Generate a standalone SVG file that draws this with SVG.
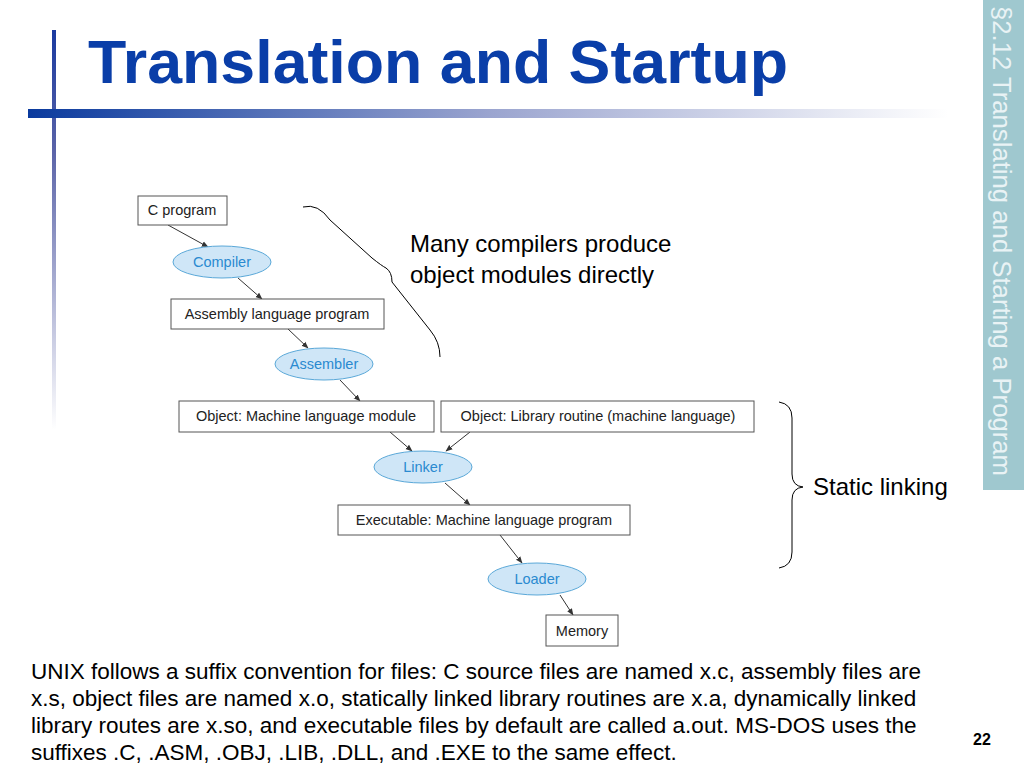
<svg xmlns="http://www.w3.org/2000/svg" width="1024" height="768" viewBox="0 0 1024 768">
<defs>
<linearGradient id="bar" x1="0" x2="1"><stop offset="0" stop-color="#0a3a9e"/><stop offset="0.5" stop-color="#9aa4cf"/><stop offset="1" stop-color="#ffffff"/></linearGradient>
<linearGradient id="vbar" x1="0" y1="0" x2="0" y2="1"><stop offset="0" stop-color="#1a3aa0"/><stop offset="0.3" stop-color="#5a63a8"/><stop offset="1" stop-color="#ffffff"/></linearGradient>
<marker id="ar" viewBox="0 0 10 10" refX="9" refY="5" markerWidth="7" markerHeight="7" orient="auto"><path d="M0,1 L10,5 L0,9 z" fill="#333"/></marker>
</defs>
<style>
.box{fill:#fff;stroke:#555;stroke-width:1}
.ell{fill:#cfe6f7;stroke:#5aa8d8;stroke-width:1}
.t{font-family:"Liberation Sans",Arial,sans-serif;font-size:14.5px;fill:#222;text-anchor:middle}
.te{font-family:"Liberation Sans",Arial,sans-serif;font-size:14.5px;fill:#2a8ad0;text-anchor:middle}
.c line{stroke:#333;stroke-width:1;marker-end:url(#ar)}
.big{font-family:"Liberation Sans",Arial,sans-serif;font-size:24px;fill:#000}
.body{font-family:"Liberation Sans",Arial,sans-serif;font-size:22.5px;fill:#000}
</style>
<rect width="1024" height="768" fill="#fff"/>
<rect x="983" y="0" width="41" height="490" fill="#9fc8cf"/>
<text transform="translate(993,6) rotate(90)" font-family="Liberation Sans,Arial,sans-serif" font-size="25.5" fill="#e9f3f5" textLength="470" lengthAdjust="spacingAndGlyphs">§2.12 Translating and Starting a Program</text>
<rect x="52" y="30" width="4" height="400" fill="url(#vbar)"/>
<rect x="28" y="109" width="920" height="9" fill="url(#bar)"/>
<text x="88" y="83" font-family="Liberation Sans,Arial,sans-serif" font-weight="bold" font-size="62" fill="#0a3ea8" textLength="700" lengthAdjust="spacingAndGlyphs">Translation and Startup</text>
<g class="c">
<line x1="168" y1="225" x2="208" y2="247"/>
<line x1="238" y1="278" x2="262" y2="299"/>
<line x1="288" y1="329" x2="308" y2="348"/>
<line x1="340" y1="380" x2="360" y2="401"/>
<line x1="390" y1="432" x2="412" y2="451"/>
<line x1="470" y1="432" x2="446" y2="451"/>
<line x1="445" y1="483" x2="470" y2="505"/>
<line x1="500" y1="535" x2="522" y2="563"/>
<line x1="560" y1="595" x2="573" y2="615"/>
</g>
<g id="cprog"><rect class="box" x="138" y="196" width="89" height="29"/><text class="t" x="182" y="215">C program</text></g>
<g id="compiler"><ellipse class="ell" cx="222" cy="262" rx="49" ry="16"/><text class="te" x="222" y="267">Compiler</text></g>
<g id="asmprog"><rect class="box" x="171" y="299" width="213" height="30"/><text class="t" x="277" y="319">Assembly language program</text></g>
<g id="assembler"><ellipse class="ell" cx="324" cy="364" rx="49" ry="16"/><text class="te" x="324" y="369">Assembler</text></g>
<g id="objmod"><rect class="box" x="179" y="401" width="255" height="31"/><text class="t" x="306" y="421">Object: Machine language module</text></g>
<g id="objlib"><rect class="box" x="441" y="401" width="313" height="31"/><text class="t" x="598" y="421">Object: Library routine (machine language)</text></g>
<g id="linker"><ellipse class="ell" cx="423" cy="467" rx="49" ry="16"/><text class="te" x="423" y="472">Linker</text></g>
<g id="exe"><rect class="box" x="338" y="505" width="292" height="30"/><text class="t" x="484" y="525">Executable: Machine language program</text></g>
<g id="loader"><ellipse class="ell" cx="537" cy="579" rx="49" ry="16"/><text class="te" x="537" y="584">Loader</text></g>
<g id="memory"><rect class="box" x="546" y="615" width="72" height="31"/><text class="t" x="582" y="636">Memory</text></g>
<path d="M303,207 Q318,203 330,220 L372,258 Q382,266 386,268 Q392,272 392,282 L430,330 Q440,342 440,357" fill="none" stroke="#000" stroke-width="1"/>
<text class="big" x="410" y="252">Many compilers produce</text>
<text class="big" x="410" y="283">object modules directly</text>
<path d="M779,402 Q792,404 792,418 L792,474 Q792,486 803,487 Q792,488 792,500 L792,552 Q792,566 779,568" fill="none" stroke="#000" stroke-width="1"/>
<text class="big" x="813" y="495">Static linking</text>
<text class="body" x="31" y="679">UNIX follows a suffix convention for files: C source files are named x.c, assembly files are</text>
<text class="body" x="31" y="706">x.s, object files are named x.o, statically linked library routines are x.a, dynamically linked</text>
<text class="body" x="31" y="733">library routes are x.so, and executable files by default are called a.out. MS-DOS uses the</text>
<text class="body" x="31" y="760">suffixes .C, .ASM, .OBJ, .LIB, .DLL, and .EXE to the same effect.</text>
<text x="982" y="745" font-family="Liberation Sans,Arial,sans-serif" font-weight="bold" font-size="16" text-anchor="middle">22</text>
</svg>
